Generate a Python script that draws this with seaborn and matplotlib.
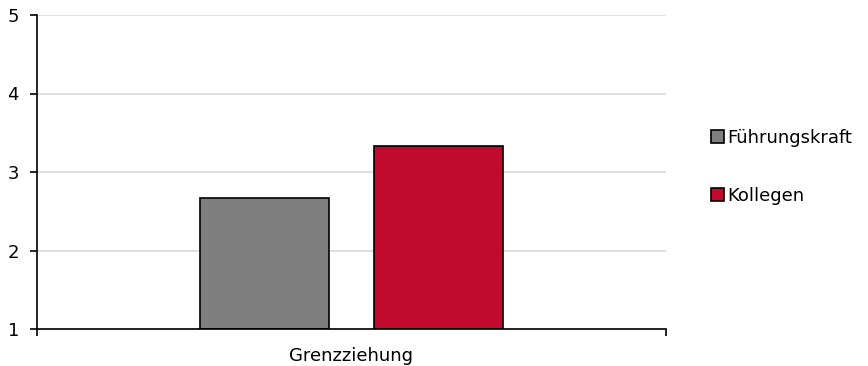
import pandas as pd
import seaborn as sns
import matplotlib.pyplot as plt
from matplotlib.patches import Patch

categories = ["Grenzziehung"]
series = ["Führungskraft", "Kollegen"]
values = [2.67, 3.33]
colors = ["#7F7F7F", "#C00A2E"]

df = pd.DataFrame({
    "kategorie": categories * len(series),
    "gruppe": series,
    "wert": values,
})

sns.set_style("white")
plt.rcParams['font.family'] = ['DejaVu Sans']
plt.rcParams['text.color'] = 'black'
plt.rcParams['xtick.color'] = 'black'
plt.rcParams['ytick.color'] = 'black'

fig = plt.figure(figsize=(8.68, 3.66), dpi=100)
ax = fig.add_axes([37/868, 1-329/366, (666-37)/868, (329-15)/366])

sns.barplot(data=df, x="kategorie", y="wert", hue="gruppe",
            palette=colors, saturation=1, width=0.551, gap=0.257,
            edgecolor="black", linewidth=1.2, ax=ax, legend=False)

# bars start from 1 like the original
for p in ax.patches:
    h = p.get_height()
    p.set_y(1)
    p.set_height(h - 1)

ax.set_xlim(-0.5, 0.5)
ax.set_ylim(1, 5)
ax.set_yticks([1, 2, 3, 4, 5])
ax.yaxis.grid(True, color="#D9D9D9", linewidth=1.2)
ax.set_axisbelow(True)
ax.set_xlabel("")
ax.set_ylabel("")

for s in ["top", "right"]:
    ax.spines[s].set_visible(False)
for s in ["left", "bottom"]:
    ax.spines[s].set_color("black")
    ax.spines[s].set_linewidth(1.2)

ax.tick_params(axis="y", left=True, length=5, width=1.2, labelsize=13, pad=8)
ax.tick_params(axis="x", which="major", bottom=False, length=0, labelsize=13, pad=13)
ax.set_xticks([-0.5, 0.5], minor=True)
ax.tick_params(axis="x", which="minor", bottom=True, length=5, width=1.2)

handles = [Patch(facecolor=c, edgecolor="black", linewidth=1.2) for c in colors]
fig.legend(handles, series, loc="center left", bbox_to_anchor=(711/868, 1-167/366),
           frameon=False, fontsize=13, handlelength=0.72, handleheight=0.72,
           handletextpad=0.2, labelspacing=2.2, borderaxespad=0, borderpad=0)

plt.savefig("out.png", dpi=100)
